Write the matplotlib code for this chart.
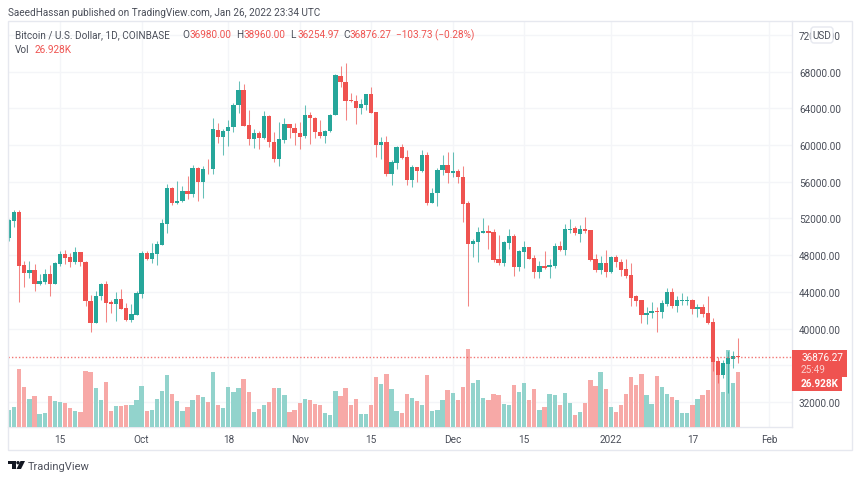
import matplotlib
matplotlib.use('Agg')
import matplotlib.pyplot as plt
import matplotlib.dates as mdates
import matplotlib.patches as mpatches
import matplotlib.transforms as mtransforms
import numpy as np
import pandas as pd

plt.rcParams['font.family'] = ['Roboto', 'DejaVu Sans']

# BTC daily candles, 5 Sep 2021 to 26 Jan 2022
opens = [49870, 51760, 52670, 46930, 46020, 46350, 44860, 45110, 45990, 44900, 47080, 48130, 47770, 47220, 48310, 47290, 43010, 40650, 43550, 44900, 42860, 42680, 43230, 42210, 40940, 41520,
         43810, 48240, 47590, 48170, 49150, 51400, 55360, 53690, 53910, 54960, 54630, 57500, 55940, 57400, 57360, 61650, 60850, 61540, 61970, 64370, 66000, 62190, 60670, 61280, 60740, 63130, 60340, 58450, 60590, 62300, 61900,
         61360, 60960, 63320, 62920, 61460, 60960, 61500, 63280, 67570, 66910, 64920, 64810, 64080, 64410, 65570, 63600, 60040, 60370, 56850, 58080, 59830, 58670, 56230, 57580, 57150, 58950, 53690, 54750, 57250, 57860,
         56960, 57180, 56560, 53690, 49190, 49440, 50450, 50640, 50530, 47590, 47150, 49330, 50090, 46720, 48320, 48890, 47700, 46140, 46820, 46680, 46860, 48970, 48530, 50750, 50930, 50350, 50860, 50750, 47590, 46380, 47110,
         46140, 47770, 47290, 46490, 45810, 43520, 43120, 41480, 41660, 41910, 41770, 42650, 43990, 42500, 43050, 43050, 43150, 42140, 42390, 41670, 40720, 36440, 34980, 36170, 36690, 36980]
highs = [51950, 52890, 52960, 47370, 47370, 47040, 45990, 46500, 46930, 47290, 48490, 48530, 48240, 48860, 48380, 47370, 43700, 44100, 45010, 45150, 43150, 43990, 44320, 42750, 42680, 44130,
         48490, 48460, 49330, 49550, 51940, 55760, 55400, 56090, 55580, 56600, 57870, 57650, 57760, 58490, 62950, 62410, 61760, 62700, 64590, 67020, 66660, 63830, 61760, 61500, 63720, 63320, 61460, 62480, 62920, 62330, 62410,
         62480, 64370, 63570, 63100, 62700, 61600, 63340, 67750, 68590, 68950, 65680, 65460, 65020, 65560, 66370, 63640, 60880, 61000, 58400, 59940, 60100, 59500, 57830, 57600, 59430, 59240, 55320, 57470, 58920, 59280,
         59210, 57400, 57690, 53910, 49770, 51110, 52050, 51290, 50820, 50200, 49550, 50860, 50280, 48600, 49550, 48890, 48020, 47370, 48430, 47590, 49330, 49580, 51400, 51950, 51220, 51290, 52170, 50780, 48130, 47920, 48600,
         47920, 48020, 47590, 47590, 47150, 43700, 43150, 42320, 42870, 42320, 43120, 44390, 44430, 43520, 43880, 43590, 43200, 42680, 42680, 43560, 41200, 36880, 36560, 37550, 37590, 38960]
lows = [49580, 51040, 42860, 44500, 45550, 44130, 44750, 44820, 43520, 44820, 46790, 47040, 46750, 47040, 46860, 42500, 39590, 40600, 43150, 40760, 41660, 40860, 42100, 40860, 40760, 41480,
        43330, 47510, 47110, 46930, 49070, 50420, 53470, 53600, 53830, 54120, 54360, 53900, 54270, 56850, 56850, 60190, 58960, 59940, 61390, 63540, 62050, 60010, 59650, 59580, 60670, 59830, 58190, 57720, 60190, 60740, 60010,
        59580, 60740, 60120, 60740, 60740, 60190, 61480, 63250, 66370, 62770, 64730, 62340, 63430, 63790, 63460, 58740, 58480, 56600, 55650, 57400, 58450, 55650, 55450, 55950, 57060, 53500, 53650, 53330, 56770, 55870,
        56480, 55830, 51650, 42430, 47840, 47220, 50420, 48680, 47290, 46930, 46860, 48680, 45770, 46310, 46570, 47600, 45480, 45540, 46490, 45540, 46640, 48500, 48050, 50420, 50240, 49400, 50420, 47340, 46140, 45950, 45670,
        46100, 46680, 45770, 45540, 42500, 42500, 40610, 40540, 41150, 39670, 41200, 42460, 42210, 41770, 42570, 42570, 41590, 41260, 41300, 40500, 35410, 34070, 34610, 32950, 35720, 36254.97]
closes = [51870, 52670, 46860, 46020, 46350, 44860, 45150, 45950, 44900, 47110, 48090, 47690, 47220, 48310, 47290, 42970, 40650, 43550, 44900, 42790, 42680, 43230, 42140, 40940, 41550, 43840,
          48240, 47590, 48200, 49260, 51470, 55360, 53690, 53940, 54960, 54630, 57500, 55940, 57400, 57360, 61760, 60850, 61540, 62010, 64370, 66000, 62120, 60670, 61280, 60770, 63140, 60300, 58450, 60670, 62300, 61900, 61360,
          60880, 63320, 62920, 61390, 60960, 61570, 63320, 67600, 66910, 64840, 64770, 64080, 64440, 65530, 63540, 60040, 60370, 56850, 58120, 59830, 58560, 56230, 57580, 57150, 58950, 53690, 54780, 57320, 57860, 56960,
          57180, 56520, 53610, 49190, 49550, 50530, 50640, 50450, 47510, 47150, 49440, 50090, 46720, 48460, 48890, 47630, 46140, 46820, 46640, 46930, 48970, 48530, 50820, 50860, 50390, 50860, 50640, 47510, 46380, 47110, 46140,
          47770, 47220, 46420, 45730, 43370, 43050, 41480, 41730, 41910, 41800, 42790, 43990, 42500, 43120, 43150, 43150, 42140, 42390, 41590, 40610, 36390, 34980, 36280, 36760, 37000, 36876.27]
# volume in thousands
volumes = [8.2, 9.6, 28.5, 19.7, 13.9, 15.0, 6.4, 6.8, 15.0, 12.7, 12.2, 11.7, 9.3, 7.7, 7.3, 27.2, 26.7, 19.2, 13.4, 22.2, 7.7, 10.1, 10.1, 10.6, 10.6, 13.0,
           20.0, 7.7, 8.5, 13.9, 17.6, 25.6, 16.0, 12.6, 7.7, 9.6, 13.4, 15.5, 14.7, 12.2, 26.7, 10.6, 9.3, 19.7, 17.1, 19.2, 23.3, 17.3, 7.2, 9.0, 10.6, 12.2, 18.9, 19.2, 15.5, 7.2, 8.5,
           11.7, 13.9, 13.0, 11.4, 10.9, 6.7, 5.9, 17.6, 15.0, 18.9, 10.6, 13.9, 6.4, 6.4, 10.6, 24.6, 20.9, 26.2, 18.4, 8.0, 6.7, 16.0, 14.2, 12.6, 10.9, 25.6, 8.0, 8.5, 13.4, 17.9,
           16.8, 13.0, 19.7, 38.3, 21.7, 23.0, 14.2, 13.4, 16.0, 15.5, 11.4, 10.6, 20.5, 17.1, 21.4, 13.0, 18.4, 8.5, 9.6, 16.0, 15.5, 10.9, 16.8, 11.7, 5.9, 7.2, 11.7, 23.0, 20.0, 27.1, 18.7,
           9.6, 7.2, 10.9, 16.3, 24.6, 20.5, 25.9, 15.5, 11.2, 25.1, 19.6, 16.3, 14.7, 13.4, 6.7, 6.7, 10.9, 13.9, 15.5, 17.9, 33.1, 31.9, 17.1, 37.5, 21.4, 26.928]

start_date = '2021-09-05'
price_ticks = [32000, 36000, 40000, 44000, 48000, 52000, 56000, 60000, 64000, 68000, 72000]
date_ticks = ['2021-09-15', '2021-10-01', '2021-10-18', '2021-11-01', '2021-11-15', '2021-12-01', '2021-12-15', '2022-01-01', '2022-01-17', '2022-02-01']
date_labels = ['15', 'Oct', '18', 'Nov', '15', 'Dec', '15', '2022', '17', 'Feb']
last_price = 36876.27

UP = '#26a69a'
DOWN = '#ef5350'
UP_VOL = '#92d3cc'
DOWN_VOL = '#f7a9a7'
GRID = '#f4f5f8'
FRAME = '#e6e8ef'
TEXT = '#4a4e59'
FS = 7.2

dates = mdates.date2num(pd.date_range(start_date, periods=len(opens)))
opens, highs, lows, closes, volumes = map(np.array, (opens, highs, lows, closes, volumes))
up = closes >= opens

fig = plt.figure(figsize=(8.6, 4.81), dpi=100)
# pixel coords with y going down, for the chrome around the chart
px = mtransforms.Affine2D().scale(1, -1).translate(0, 481)
ax = fig.add_axes([8 / 860, 1 - 428 / 481, 784 / 860, 406 / 481])

x0 = mdates.date2num(pd.Timestamp('2021-09-15'))
ax.set_xlim(x0 - 10.2, x0 + 143.53)
ax.set_ylim(29275, 73526)

# volume sits in the lower part, under the candles
ax_vol = ax.twinx()
ax_vol.set_ylim(0, 198.9)
ax_vol.set_yticks([])
ax_vol.bar(dates, volumes, width=0.84, color=np.where(up, UP_VOL, DOWN_VOL))
ax_vol.patch.set_visible(False)

ax_c = ax.twinx()
ax_c.set_ylim(ax.get_ylim())
ax_c.set_yticks([])
ax_c.patch.set_visible(False)
colors = np.where(up, UP, DOWN)
ax_c.vlines(dates, lows, highs, color=colors, linewidth=0.75, alpha=0.7)
ax_c.bar(dates, np.abs(closes - opens), bottom=np.minimum(opens, closes), width=0.84, color=colors)
ax_c.axhline(last_price, color=DOWN, linewidth=1, linestyle=(0, (1, 1.5)), alpha=0.8)
for a in (ax_vol, ax_c):
    for spine in a.spines.values():
        spine.set_visible(False)

# twinx puts the ticks back on the left, so set them up after it
ax.yaxis.tick_right()
ax.set_yticks(price_ticks)
# the 36000 label is hidden behind the last price box in the original
ax.set_yticklabels(['' if p == 36000 else '%.2f' % p for p in price_ticks])
ax.set_xticks(mdates.date2num(pd.to_datetime(date_ticks)))
ax.set_xticklabels(date_labels)
ax.tick_params(axis='both', length=0, labelsize=FS, labelcolor=TEXT)
ax.tick_params(axis='y', pad=5)
ax.tick_params(axis='x', pad=5)
ax.grid(True, color=GRID, linewidth=1)
ax.set_axisbelow(True)
for name, spine in ax.spines.items():
    spine.set_visible(name in ('right', 'bottom'))
    spine.set_color(FRAME)
    spine.set_linewidth(1)

# outer frame of the widget
fig.add_artist(mpatches.Rectangle((8, 22), 844, 429, transform=px, fill=False, edgecolor=FRAME, linewidth=1))

fig.text(8, 16, 'SaeedHassan published on TradingView.com, Jan 26, 2022 23:34 UTC', transform=px, fontsize=FS, color=TEXT)
fig.text(15, 38.5, 'Bitcoin / U.S. Dollar, 1D, COINBASE', transform=px, fontsize=FS, color=TEXT)
for x, label, value in [(182, 'O', '36980.00'), (236, 'H', '38960.00'), (290, 'L', '36254.97'), (343, 'C', '36876.27')]:
    fig.text(x, 38.5, label, transform=px, fontsize=FS, color=TEXT)
    fig.text(x + 7, 38.5, value, transform=px, fontsize=FS, color=DOWN)
fig.text(396, 38.5, '\u2212103.73 (\u22120.28%)', transform=px, fontsize=FS, color=DOWN)
fig.text(15, 53, 'Vol', transform=px, fontsize=FS, color=TEXT)
fig.text(35, 53, '26.928K', transform=px, fontsize=FS, color=DOWN)

# USD button over the top price label
fig.add_artist(mpatches.FancyBboxPatch((813, 30), 18, 12, boxstyle='round,pad=2,rounding_size=3', transform=px,
                                       facecolor='white', edgecolor=FRAME, linewidth=1, zorder=3))
fig.text(822, 36, 'USD', transform=px, fontsize=FS, color=TEXT, ha='center', va='center', zorder=4)

# last price labels
fig.add_artist(mpatches.Rectangle((792, 351), 55, 27, transform=px, facecolor=DOWN, edgecolor='none', zorder=3))
fig.add_artist(mpatches.Rectangle((792, 377), 50, 15, transform=px, facecolor=DOWN, edgecolor='none', zorder=3))
fig.text(801, 358, '36876.27', transform=px, fontsize=FS, color='white', va='center', zorder=4)
fig.text(801, 370, '25:49', transform=px, fontsize=FS, color='#fbd0cf', va='center', zorder=4)
fig.text(801, 384.5, '26.928K', transform=px, fontsize=FS, color='white', va='center', fontweight='bold', zorder=4)

# TradingView logo
logo = '#131722'
fig.add_artist(mpatches.Polygon([(8, 462), (15.5, 462), (15.5, 470), (11.5, 470), (11.5, 465), (8, 465)], transform=px, facecolor=logo, edgecolor='none'))
fig.add_artist(mpatches.Circle((18, 463.7), 1.7, transform=px, facecolor=logo, edgecolor='none'))
fig.add_artist(mpatches.Polygon([(20.5, 462), (25, 462), (21, 470), (16.5, 470)], transform=px, facecolor=logo, edgecolor='none'))
fig.text(28, 470, 'TradingView', transform=px, fontsize=8, color='#50535e')

fig.savefig('out.png', dpi=100)
